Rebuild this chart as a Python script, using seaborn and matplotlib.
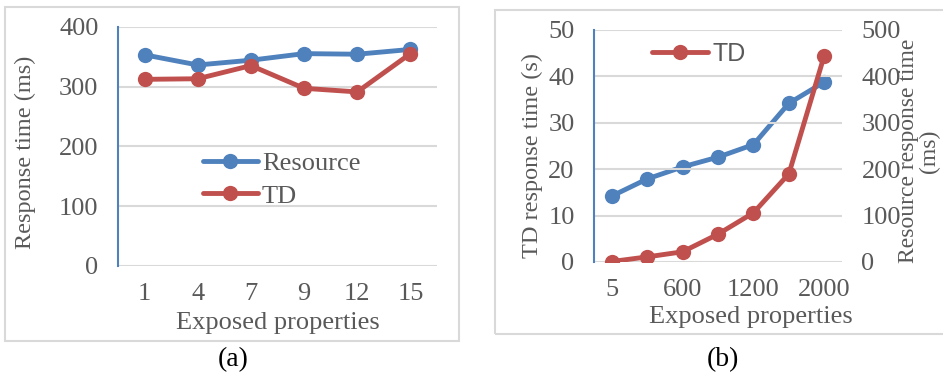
import matplotlib
matplotlib.use("Agg")
import matplotlib.pyplot as plt
from matplotlib.patches import Rectangle
import numpy as np
import pandas as pd
import seaborn as sns

# Panel (a): small property counts
a_props = ["1", "4", "7", "9", "12", "15"]
a_resource_ms = [353, 336, 344, 355, 354, 362]
a_td_ms = [312, 313, 335, 297, 291, 355]

# Panel (b): large property counts (only every other tick labelled)
b_props = ["5", "", "600", "", "1200", "", "2000"]
b_td_s = [0.1, 1.1, 2.2, 6.0, 10.6, 19.0, 44.5]
b_resource_ms = [142, 179, 205, 226, 253, 342, 388]

BLUE = "#4F81BD"
RED = "#C0504D"
TEXT = "#595959"
GRID = "#D9D9D9"

sns.set_theme(style="white")
plt.rcParams["font.family"] = ["Liberation Serif", "DejaVu Serif"]

W, H = 943, 376
fig = plt.figure(figsize=(W / 100, H / 100), dpi=100)

TICK_FS = 19
LABEL_FS = 19


def px_axes(x0, y0, x1, y1):
    return fig.add_axes([x0 / W, 1 - y1 / H, (x1 - x0) / W, (y1 - y0) / H])


def frame(x0, y0, x1, y1):
    fig.patches.append(Rectangle((x0 / W, 1 - y1 / H), (x1 - x0) / W, (y1 - y0) / H,
                                 transform=fig.transFigure, fill=False,
                                 edgecolor="#D9D9D9", linewidth=1.5))


def style_axes(ax):
    for s in ["top", "right", "bottom"]:
        ax.spines[s].set_visible(False)
    ax.spines["left"].set_color(BLUE)
    ax.spines["left"].set_linewidth(1.5)
    ax.tick_params(length=0, colors=TEXT, labelsize=TICK_FS)
    ax.tick_params(axis="y", pad=14)
    ax.tick_params(axis="x", pad=12)
    ax.yaxis.grid(True, color=GRID, linewidth=1.5)
    ax.set_axisbelow(True)


def place_labels(ax, xl, yl):
    ax.xaxis.set_label_coords(*xl)
    ax.xaxis.label.set_va("center")
    ax.yaxis.set_label_coords(*yl)
    ax.yaxis.label.set_va("center")


line_kw = dict(linewidth=3.5, marker="o", markersize=11, markeredgewidth=0)

# ---- panel (a)
frame(5, 7, 459, 341)
ax1 = px_axes(118, 26.7, 437, 266)
df_a = pd.DataFrame({"pos": np.arange(len(a_props)), "Resource": a_resource_ms, "TD": a_td_ms})
sns.lineplot(data=df_a, x="pos", y="Resource", ax=ax1, color=BLUE, label="Resource", **line_kw)
sns.lineplot(data=df_a, x="pos", y="TD", ax=ax1, color=RED, label="TD", **line_kw)
style_axes(ax1)
ax1.set_ylim(0, 400)
ax1.set_yticks(range(0, 401, 100))
ax1.set_xlim(-0.5, len(a_props) - 0.5)
ax1.set_xticks(df_a["pos"], a_props)
ax1.set_xlabel("Exposed properties", fontsize=LABEL_FS, color=TEXT)
ax1.set_ylabel("Response time (ms)", fontsize=17.5, color=TEXT)
place_labels(ax1, (0.5, -0.238), (-0.29, 0.476))
ax1.legend(loc="center left", bbox_to_anchor=(0.265, 0.361), frameon=False,
           fontsize=LABEL_FS, handlelength=2.1, handletextpad=0.15, labelspacing=0.35,
           labelcolor=TEXT, borderaxespad=0, borderpad=0)

# ---- panel (b)
frame(495, 10, 960, 334)
ax2 = px_axes(594, 30, 842, 262)
ax3 = ax2.twinx()
pos_b = np.arange(len(b_props))
df_b = pd.DataFrame({"pos": pos_b, "TD": b_td_s, "Resource": b_resource_ms})
sns.lineplot(data=df_b, x="pos", y="TD", ax=ax2, color=RED, label="TD", **line_kw)
sns.lineplot(data=df_b, x="pos", y="Resource", ax=ax3, color=BLUE, legend=False, **line_kw)
style_axes(ax2)
for s in ax3.spines.values():
    s.set_visible(False)
ax3.tick_params(length=0, colors=TEXT, labelsize=TICK_FS, pad=14)
ax2.set_ylim(0, 50)
ax2.set_yticks(range(0, 51, 10))
ax3.set_ylim(0, 500)
ax3.set_yticks(range(0, 501, 100))
ax2.set_xlim(-0.5, len(b_props) - 0.5)
ax2.set_xticks(pos_b, b_props)
ax2.set_xlabel("Exposed properties", fontsize=LABEL_FS, color=TEXT)
ax2.set_ylabel("TD response time (s)", fontsize=17.5, color=TEXT)
place_labels(ax2, (0.633, -0.237), (-0.25, 0.46))
ax3.set_ylabel("Resource response time\n(ms)", fontsize=17, color=TEXT,
               linespacing=0.95, rotation=90)
ax3.yaxis.set_label_coords(1.31, 0.478)
ax3.yaxis.label.set_va("center")
# red line drawn above blue one
ax2.set_zorder(ax3.get_zorder() + 1)
ax2.patch.set_visible(False)
ax2.legend(loc="center left", bbox_to_anchor=(0.234, 0.897), frameon=False,
           handlelength=2.25, handletextpad=0.15, labelcolor=TEXT, borderaxespad=0,
           borderpad=0, prop={"family": "Liberation Sans", "size": 18})

fig.text(233 / W, 1 - 360 / H, "(a)", ha="center", va="center", fontsize=20, color="black")
fig.text(723 / W, 1 - 360 / H, "(b)", ha="center", va="center", fontsize=20, color="black")

fig.savefig("out.png", dpi=100, facecolor="white")
